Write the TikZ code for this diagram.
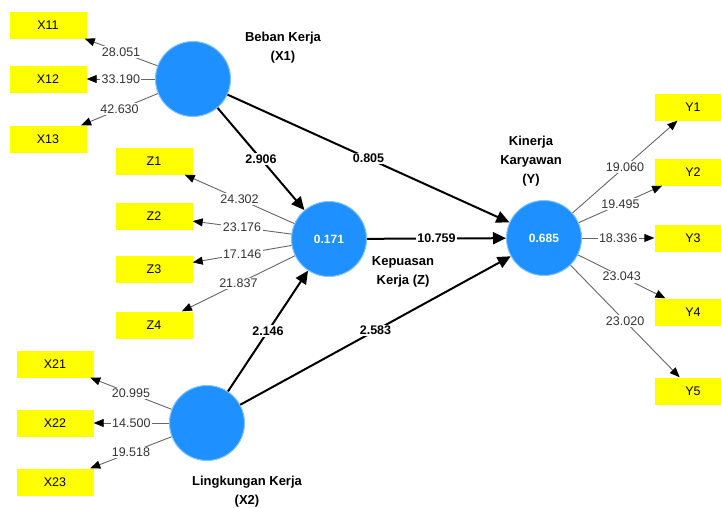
\documentclass[tikz,border=0pt]{standalone}
\usepackage{fontspec}
\setmainfont{Liberation Sans}
\usetikzlibrary{shapes,arrows.meta}
\definecolor{plsblue}{RGB}{30,144,255}
\definecolor{plsyellow}{RGB}{255,255,0}
\tikzstyle{lv} = [circle,fill=plsblue,draw=plsblue!55,line width=1pt,minimum size=75pt,inner sep=0pt,text=white,font=\fontsize{12}{14}\selectfont\bfseries]
\tikzstyle{mv} = [rectangle,fill=plsyellow,minimum width=77pt,minimum height=27pt,inner sep=0pt,font=\fontsize{12.5}{14}\selectfont]
\tikzstyle{title} = [align=center,font=\fontsize{13}{19}\selectfont\bfseries]
\tikzstyle{load} = [draw=black!60,line width=0.9pt,-{Triangle[length=10pt,width=8pt,black]}]
\tikzstyle{path} = [draw=black,line width=2pt,-{Triangle[length=13pt,width=12pt]}]
\tikzstyle{val} = [fill=white,inner sep=1.5pt,text=black!80,font=\fontsize{12.5}{14}\selectfont]
\tikzstyle{coef} = [fill=white,inner sep=1.5pt,font=\fontsize{12.5}{14}\selectfont\bfseries]

\begin{document}
\begin{tikzpicture}[x=1pt,y=-1pt]
  \useasboundingbox (0,0) rectangle (721,507);
  % latent variables
  \node[lv] (X1) at (193,79) {};
  \node[lv] (Z) at (329,239) {0.171};
  \node[lv] (Y) at (544,238) {0.685};
  \node[lv] (X2) at (207,423) {};
  \node[title] at (283,48) {Beban Kerja\\(X1)};
  \node[title] at (403,272) {Kepuasan\\Kerja (Z)};
  \node[title] at (531,161) {Kinerja\\Karyawan\\(Y)};
  \node[title] at (247,492) {Lingkungan Kerja\\(X2)};
  % indicators
  \node[mv] (X11) at (48,25) {X11};
  \node[mv] (X12) at (48,79) {X12};
  \node[mv] (X13) at (48,139) {X13};
  \node[mv] (Z1) at (154,161) {Z1};
  \node[mv] (Z2) at (154,216) {Z2};
  \node[mv] (Z3) at (154,269) {Z3};
  \node[mv] (Z4) at (154,325) {Z4};
  \node[mv] (X21) at (55,364) {X21};
  \node[mv] (X22) at (55,423) {X22};
  \node[mv] (X23) at (55,482) {X23};
  \node[mv] (Y1) at (693,107) {Y1};
  \node[mv] (Y2) at (693,172) {Y2};
  \node[mv] (Y3) at (693,238) {Y3};
  \node[mv] (Y4) at (693,312) {Y4};
  \node[mv] (Y5) at (693,391) {Y5};
  % loadings
  \foreach \m/\v in {X11/28.051,X12/33.190,X13/42.630}
    \draw[load] (X1) -- node[val] {\v} (\m);
  \foreach \m/\v in {Z1/24.302,Z2/23.176,Z3/17.146,Z4/21.837}
    \draw[load] (Z) -- node[val] {\v} (\m);
  \foreach \m/\v in {X21/20.995,X22/14.500,X23/19.518}
    \draw[load] (X2) -- node[val] {\v} (\m);
  \foreach \m/\v in {Y1/19.060,Y2/19.495,Y3/18.336,Y4/23.043,Y5/23.020}
    \draw[load] (Y) -- node[val] {\v} (\m);
  % inner model
  \draw[path] (X1) -- node[coef] {2.906} (Z);
  \draw[path] (X1) -- node[coef] {0.805} (Y);
  \draw[path] (Z) -- node[coef] {10.759} (Y);
  \draw[path] (X2) -- node[coef] {2.146} (Z);
  \draw[path] (X2) -- node[coef] {2.583} (Y);
\end{tikzpicture}
\end{document}
